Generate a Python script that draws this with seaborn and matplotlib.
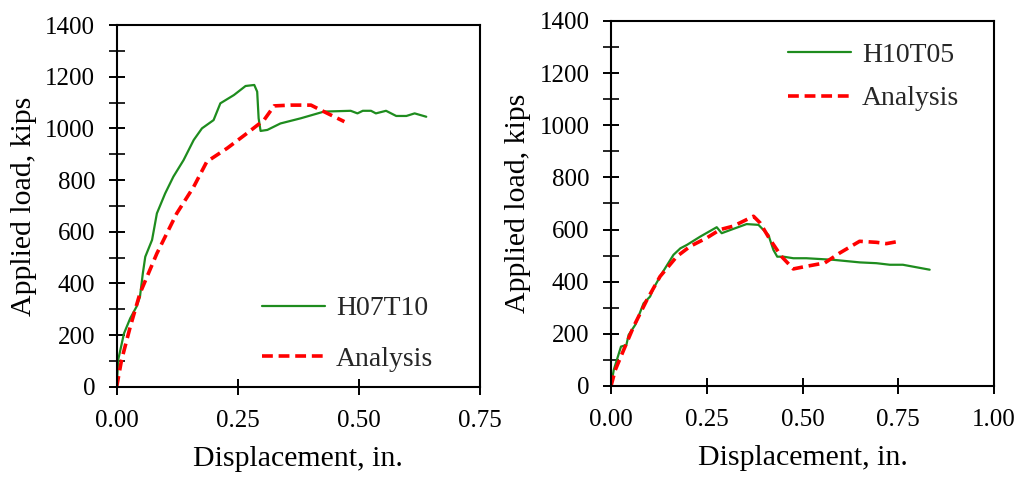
import numpy as np
import pandas as pd
import matplotlib
matplotlib.use("Agg")
import matplotlib.pyplot as plt
import seaborn as sns
from matplotlib.ticker import MultipleLocator

# ---- data ----
h07_x = [0.0, 0.003, 0.015, 0.028, 0.041, 0.048, 0.054, 0.059, 0.073, 0.083, 0.100, 0.117, 0.138, 0.159,
         0.176, 0.200, 0.214, 0.242, 0.266, 0.284, 0.290, 0.293, 0.297, 0.311, 0.338, 0.380, 0.428, 0.483,
         0.497, 0.508, 0.525, 0.535, 0.556, 0.577, 0.598, 0.615, 0.639]
h07_y = [0, 103, 206, 265, 310, 348, 439, 503, 568, 671, 748, 813, 877, 955,
         1000, 1032, 1097, 1129, 1164, 1168, 1142, 1039, 990, 994, 1019, 1039, 1065, 1068,
         1058, 1068, 1068, 1058, 1068, 1048, 1048, 1058, 1045]
an1_x = [0.0, 0.010, 0.028, 0.048, 0.083, 0.124, 0.159, 0.186, 0.228, 0.269, 0.304, 0.325, 0.359, 0.401, 0.421, 0.470]
an1_y = [0, 103, 232, 361, 516, 671, 774, 871, 923, 981, 1032, 1087, 1090, 1090, 1071, 1026]

h10_x = [0.0, 0.007, 0.026, 0.040, 0.046, 0.063, 0.085, 0.102, 0.111, 0.133, 0.163, 0.181, 0.198, 0.233,
         0.276, 0.289, 0.311, 0.354, 0.385, 0.411, 0.424, 0.434, 0.450, 0.476, 0.510, 0.580, 0.650, 0.693,
         0.728, 0.762, 0.832]
h10_y = [0, 61, 151, 157, 196, 234, 317, 343, 375, 432, 503, 528, 541, 573,
         609, 586, 598, 621, 618, 579, 522, 496, 496, 490, 490, 484, 474, 471,
         465, 465, 446]
an2_x = [0.0, 0.011, 0.033, 0.059, 0.094, 0.128, 0.172, 0.207, 0.250, 0.285, 0.319, 0.372, 0.389, 0.415,
         0.445, 0.476, 0.510, 0.558, 0.597, 0.649, 0.693, 0.719, 0.752]
an2_y = [0, 61, 138, 228, 331, 420, 497, 536, 568, 600, 613, 651, 626, 562,
         497, 449, 459, 472, 510, 555, 551, 546, 555]

labels_left = ["H07T10", "Analysis"]
labels_right = ["H10T05", "Analysis"]
x_label = "Displacement, in."
y_label = "Applied load, kips"

sns.set_theme(style="white")
plt.rcParams["font.family"] = ["Liberation Serif", "DejaVu Serif"]
plt.rcParams["mathtext.fontset"] = "stix"

GREEN = "#1e8c1e"
RED = "#ff0000"

fig = plt.figure(figsize=(10.29, 4.86), dpi=100)
ax1 = fig.add_axes([0.1134, 0.2043, 0.3531, 0.7442])
ax2 = fig.add_axes([0.5938, 0.2058, 0.3722, 0.7510])


def draw(ax, ex_x, ex_y, an_x, an_y, labels, xmax, xticks):
    d1 = pd.DataFrame({"x": ex_x, "y": ex_y})
    d2 = pd.DataFrame({"x": an_x, "y": an_y})
    sns.lineplot(data=d1, x="x", y="y", ax=ax, sort=False, color=GREEN, lw=1.6, label=labels[0])
    sns.lineplot(data=d2, x="x", y="y", ax=ax, sort=False, color=RED, lw=2.6, label=labels[1],
                 dashes=False, linestyle=(0, (3, 1.6)))
    ax.set_xlim(0, xmax)
    ax.set_ylim(0, 1400)
    ax.set_xticks(xticks)
    ax.set_xticklabels([f"{t:.2f}" for t in xticks])
    ax.yaxis.set_major_locator(MultipleLocator(200))
    ax.yaxis.set_minor_locator(MultipleLocator(100))
    ax.tick_params(axis="both", which="major", direction="inout", length=11, width=1.4,
                   labelsize=18, colors="black", left=True, bottom=True)
    ax.tick_params(axis="x", pad=11)
    ax.tick_params(axis="y", pad=10)
    ax.tick_params(axis="y", which="minor", direction="inout", length=11, width=1.4, left=True)
    for s in ax.spines.values():
        s.set_color("black")
        s.set_linewidth(1.5)
    ax.set_xlabel(x_label, fontsize=21.5, color="black", labelpad=10)
    ax.set_ylabel(y_label, fontsize=21.5, color="black", labelpad=6)
    ax.set_facecolor("white")


draw(ax1, h07_x, h07_y, an1_x, an1_y, labels_left, 0.75, [0.0, 0.25, 0.50, 0.75])
draw(ax2, h10_x, h10_y, an2_x, an2_y, labels_right, 1.0, [0.0, 0.25, 0.50, 0.75, 1.00])

leg1 = ax1.legend(loc="lower right", bbox_to_anchor=(0.94, -0.028), frameon=False, fontsize=20,
                  handlelength=2.25, handletextpad=0.4, labelspacing=0.9)
leg2 = ax2.legend(loc="upper right", bbox_to_anchor=(0.974, 1.01), frameon=False, fontsize=20,
                  handlelength=2.25, handletextpad=0.4, labelspacing=0.65)

fig.savefig("out.png", dpi=100, facecolor="white")
